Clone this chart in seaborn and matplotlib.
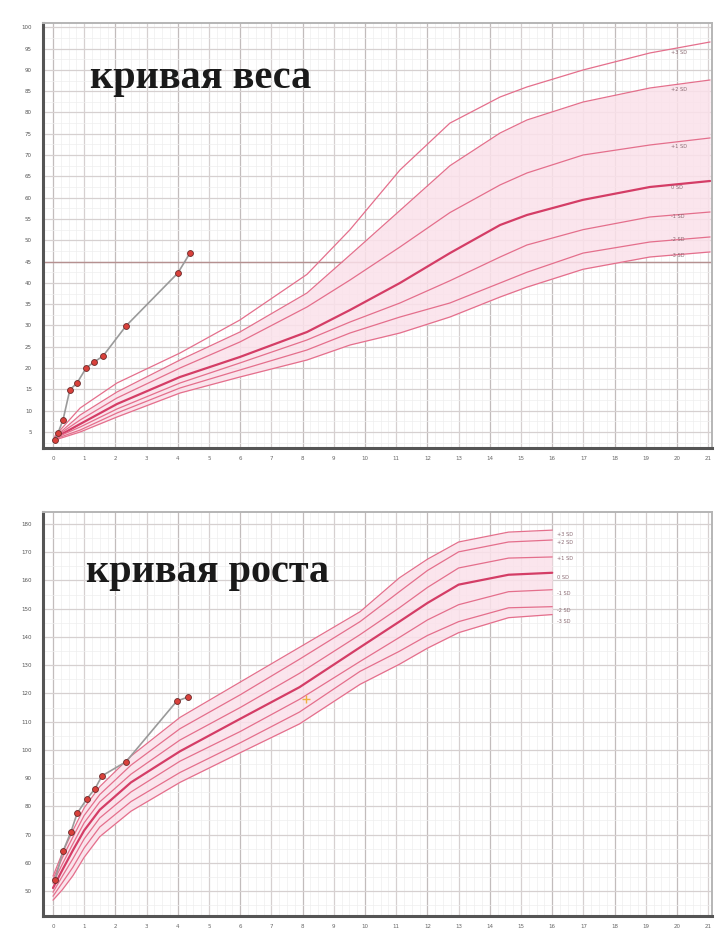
import numpy as np
import pandas as pd
import matplotlib
matplotlib.use("Agg")
import matplotlib.pyplot as plt
import seaborn as sns

# ---------------- data ----------------
# weight-for-age reference curves (age in years, weight in kg)
w_age = [0.06, 0.87, 2.05, 4.07, 5.99, 8.14, 9.52, 11.12, 12.72, 14.33, 15.19, 16.99, 19.13, 21.06]
w_p3 = [4.06, 10.63, 16.50, 23.54, 31.29, 42.00, 52.50, 66.50, 77.50, 83.64, 85.99, 89.98, 93.97, 96.55]
w_p2 = [3.83, 8.99, 14.39, 21.90, 28.47, 37.63, 46.55, 57.00, 67.50, 75.19, 78.24, 82.46, 85.75, 87.63]
w_p1 = [3.83, 7.82, 12.98, 20.02, 26.13, 34.34, 40.68, 48.43, 56.50, 63.00, 65.80, 70.02, 72.37, 74.02]
w_0 = [3.59, 6.88, 11.57, 17.91, 22.61, 28.47, 33.64, 39.98, 46.99, 53.59, 55.94, 59.50, 62.51, 63.92]
w_m1 = [3.59, 6.17, 10.40, 16.50, 21.20, 26.60, 30.82, 35.28, 40.50, 46.08, 48.90, 52.50, 55.47, 56.64]
w_m2 = [3.36, 5.46, 9.46, 15.33, 19.55, 24.25, 28.24, 31.99, 35.28, 39.98, 42.50, 47.00, 49.60, 50.78]
w_m3 = [3.12, 5.00, 8.52, 14.15, 17.91, 21.90, 25.42, 28.24, 31.99, 36.69, 39.00, 43.20, 46.08, 47.26]

# patient weight
pw_age = [0.06, 0.16, 0.32, 0.54, 0.77, 1.06, 1.31, 1.60, 2.34, 4.00, 4.39]
pw_val = [3.1, 4.8, 7.8, 14.9, 16.5, 20.0, 21.4, 22.8, 29.9, 42.3, 47.0]

# height-for-age reference curves (age in years, height in cm)
h_age = [0, 0.3, 0.64, 1.0, 1.5, 2.5, 4.07, 6.0, 7.9, 9.84, 11.1, 12.0, 13.0, 14.6, 16.0]
h_p3 = [55.3, 63.5, 71.5, 79.5, 87.0, 97.8, 111.5, 124.0, 136.3, 148.9, 160.9, 167.5, 173.6, 177.1, 177.8]
h_p2 = [54.2, 61.8, 69.2, 76.8, 84.2, 94.6, 107.5, 119.5, 132.1, 145.4, 156.0, 163.5, 170.1, 173.6, 174.3]
h_p1 = [52.8, 59.6, 66.8, 74.2, 81.6, 91.4, 103.5, 115.0, 127.1, 140.8, 150.3, 157.5, 164.4, 167.9, 168.3]
h_0 = [51.1, 57.5, 64.5, 71.5, 78.8, 88.5, 99.5, 111.0, 122.2, 136.3, 145.4, 152.0, 158.5, 162.0, 162.7]
h_m1 = [49.6, 55.3, 61.5, 68.5, 75.9, 85.1, 96.0, 106.5, 117.9, 131.3, 139.8, 146.0, 151.4, 156.0, 156.7]
h_m2 = [48.2, 53.0, 58.5, 65.3, 72.7, 81.7, 92.0, 102.5, 113.4, 127.8, 134.9, 140.5, 145.4, 150.3, 150.7]
h_m3 = [46.8, 50.5, 55.5, 62.0, 69.3, 78.3, 88.5, 99.0, 109.2, 123.2, 130.3, 136.0, 141.5, 146.8, 147.9]

# patient height
ph_age = [0.06, 0.32, 0.58, 0.77, 1.09, 1.35, 1.57, 2.34, 3.97, 4.33]
ph_val = [53.9, 64.1, 71.1, 77.5, 82.7, 86.3, 90.8, 95.8, 117.3, 118.7]
target_age = [8.1]
target_val = [118.0]

sd_labels = ["+3 SD", "+2 SD", "+1 SD", "0 SD", "-1 SD", "-2 SD", "-3 SD"]
x_ticks = list(range(0, 22))
w_ticks = list(range(5, 101, 5))
h_ticks = list(range(50, 181, 10))

titles = ["кривая веса", "кривая роста"]

# ---------------- style ----------------
sns.set_theme(style="white")
plt.rcParams["font.family"] = ["DejaVu Sans"]

CURVE = "#e46f8c"
MEDIAN = "#d43d66"
FILL = "#fbe1ea"
PT_LINE = "#9a9a9a"
PT_FACE = "#d9413b"

fig = plt.figure(figsize=(7.17, 9.32), dpi=100)
ax1 = fig.add_axes([0.060, 0.5193, 0.933, 0.456])
ax2 = fig.add_axes([0.060, 0.0172, 0.933, 0.4334])


def grid(ax, ymin, ymax, ystep, ymajor):
    for v in np.arange(0, 21.01, 0.25):
        ax.axvline(v, color="#eeeeee", lw=0.5, zorder=0)
    for v in range(0, 22):
        ax.axvline(v, color="#d6d0d0" if v % 2 else "#c2bcbc", lw=0.9, zorder=0)
    for v in np.arange(ymin, ymax + 0.01, ystep / 2):
        ax.axhline(v, color="#eeeeee", lw=0.5, zorder=0)
    for v in ymajor:
        ax.axhline(v, color="#d6d0d0", lw=0.9, zorder=0)


def draw_curves(ax, ages, curves, fill_top, fill_bot, label_x, label_offsets):
    ax.fill_between(ages, fill_top, fill_bot, color=FILL, alpha=0.85, zorder=1, lw=0)
    for i, c in enumerate(curves):
        median = sd_labels[i] == "0 SD"
        sns.lineplot(x=ages, y=c, ax=ax, color=MEDIAN if median else CURVE,
                     lw=1.6 if median else 0.9, zorder=2, legend=False)
        ax.text(label_x, c[-1] + label_offsets[i], sd_labels[i], fontsize=3.6,
                color="#8a6a72", ha="left", va="center", zorder=4)


def patient(ax, ages, vals):
    sns.lineplot(x=ages, y=vals, ax=ax, color=PT_LINE, lw=1.2, zorder=5, legend=False)
    sns.scatterplot(x=ages, y=vals, ax=ax, color=PT_FACE, edgecolor="#6a2a2a",
                    linewidth=0.6, s=18, zorder=6, legend=False)


def frame(ax, ylim, yticks):
    ax.set_xlim(-0.32, 21.12)
    ax.set_ylim(*ylim)
    ax.set_xticks(x_ticks)
    ax.set_xticklabels([str(t) for t in x_ticks])
    ax.set_yticks(yticks)
    ax.set_yticklabels([str(t) for t in yticks])
    ax.tick_params(axis="both", labelsize=4, colors="#555555", length=3,
                   width=1.2, direction="out", pad=5)
    ax.tick_params(axis="x", labelcolor="#666666", pad=2.5)
    for s in ["left", "bottom"]:
        ax.spines[s].set_color("#555555")
        ax.spines[s].set_linewidth(2.2)
    for s in ["top", "right"]:
        ax.spines[s].set_color("#b5b5b5")
        ax.spines[s].set_linewidth(1.4)
    ax.set_xlabel("")
    ax.set_ylabel("")


# weight chart
grid(ax1, 0, 100, 5, w_ticks)
ax1.axhline(45, color="#b59090", lw=1.0, zorder=0.5)
draw_curves(ax1, w_age, [w_p3, w_p2, w_p1, w_0, w_m1, w_m2, w_m3],
            w_p2, w_m3, 19.8,
            [-2.5, -2.3, -2.0, -1.6, -1.0, -0.7, -0.9])
patient(ax1, pw_age, pw_val)
frame(ax1, (1.24, 101.0), w_ticks)
ax1.text(1.2, 88.0, titles[0], fontsize=29, fontweight="bold",
         family=["Liberation Serif", "DejaVu Serif"], color="#1a1a1a",
         ha="left", va="center", zorder=7)

# height chart
grid(ax2, 40, 185, 10, h_ticks)
draw_curves(ax2, h_age, [h_p3, h_p2, h_p1, h_0, h_m1, h_m2, h_m3],
            h_p3, h_m3, 16.15,
            [-1.5, -1.0, -0.6, -1.5, -1.5, -1.5, -2.3])
patient(ax2, ph_age, ph_val)
sns.scatterplot(x=target_age, y=target_val, ax=ax2, marker="+", color="#f0b040",
                s=30, linewidth=1.0, zorder=6, legend=False)
frame(ax2, (41.2, 184.2), h_ticks)
ax2.text(1.05, 162.7, titles[1], fontsize=29, fontweight="bold",
         family=["Liberation Serif", "DejaVu Serif"], color="#1a1a1a",
         ha="left", va="center", zorder=7)

fig.savefig("out.png", dpi=100, facecolor="white")
